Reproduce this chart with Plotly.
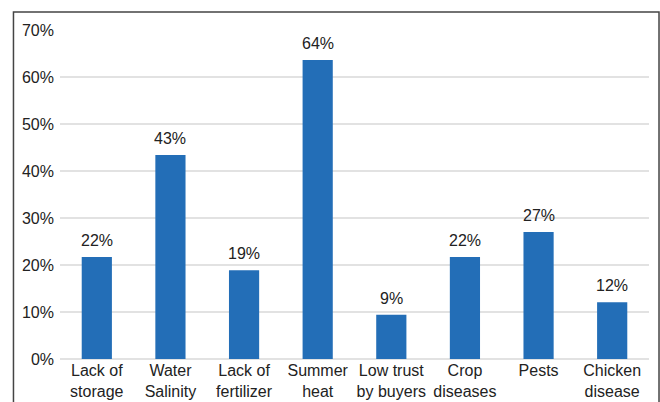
import plotly.graph_objects as go

categories = ["Lack of<br>storage", "Water<br>Salinity", "Lack of<br>fertilizer", "Summer<br>heat",
              "Low trust<br>by buyers", "Crop<br>diseases", "Pests", "Chicken<br>disease"]
values = [21.7, 43.4, 18.9, 63.6, 9.4, 21.7, 27.0, 12.1]
labels = ["22%", "43%", "19%", "64%", "9%", "22%", "27%", "12%"]
tick_vals = [0, 10, 20, 30, 40, 50, 60, 70]
tick_text = ["0%", "10%", "20%", "30%", "40%", "50%", "60%", "70%"]

font_family = "Liberation Sans, Arial, sans-serif"
text_color = "#222222"

fig = go.Figure(go.Bar(
    x=categories, y=values,
    marker=dict(color="#236EB7", line=dict(width=0)),
    cliponaxis=False,
))

annotations = [dict(x=c, y=v, text=t, xref="x", yref="y", showarrow=False,
                    yanchor="bottom", yshift=6,
                    font=dict(family=font_family, size=16, color=text_color))
               for c, v, t in zip(categories, values, labels)]

fig.update_layout(
    width=660, height=402,
    margin=dict(l=60, r=11, t=30, b=43),
    paper_bgcolor="white", plot_bgcolor="white",
    bargap=0.59,
    showlegend=False,
    font=dict(family=font_family, size=16, color=text_color),
    xaxis=dict(showgrid=False, showline=False, ticks="", automargin=False,
               tickfont=dict(family=font_family, size=16, color=text_color)),
    yaxis=dict(range=[0, 70], tickvals=tick_vals, ticktext=tick_text, automargin=False,
               showgrid=True, gridcolor="#e2e2e2", gridwidth=1.5,
               zeroline=True, zerolinecolor="#e2e2e2", zerolinewidth=1.5,
               showline=False, ticks="", ticklabelstandoff=5,
               tickfont=dict(family=font_family, size=16, color=text_color)),
    annotations=annotations,
    shapes=[dict(type="rect", xref="paper", yref="paper",
                 x0=-0.079, x1=1.017, y0=-0.3, y1=1.055,
                 line=dict(color="#444444", width=1.5), fillcolor="rgba(0,0,0,0)",
                 layer="above")],
)

fig.write_html("out.html")
